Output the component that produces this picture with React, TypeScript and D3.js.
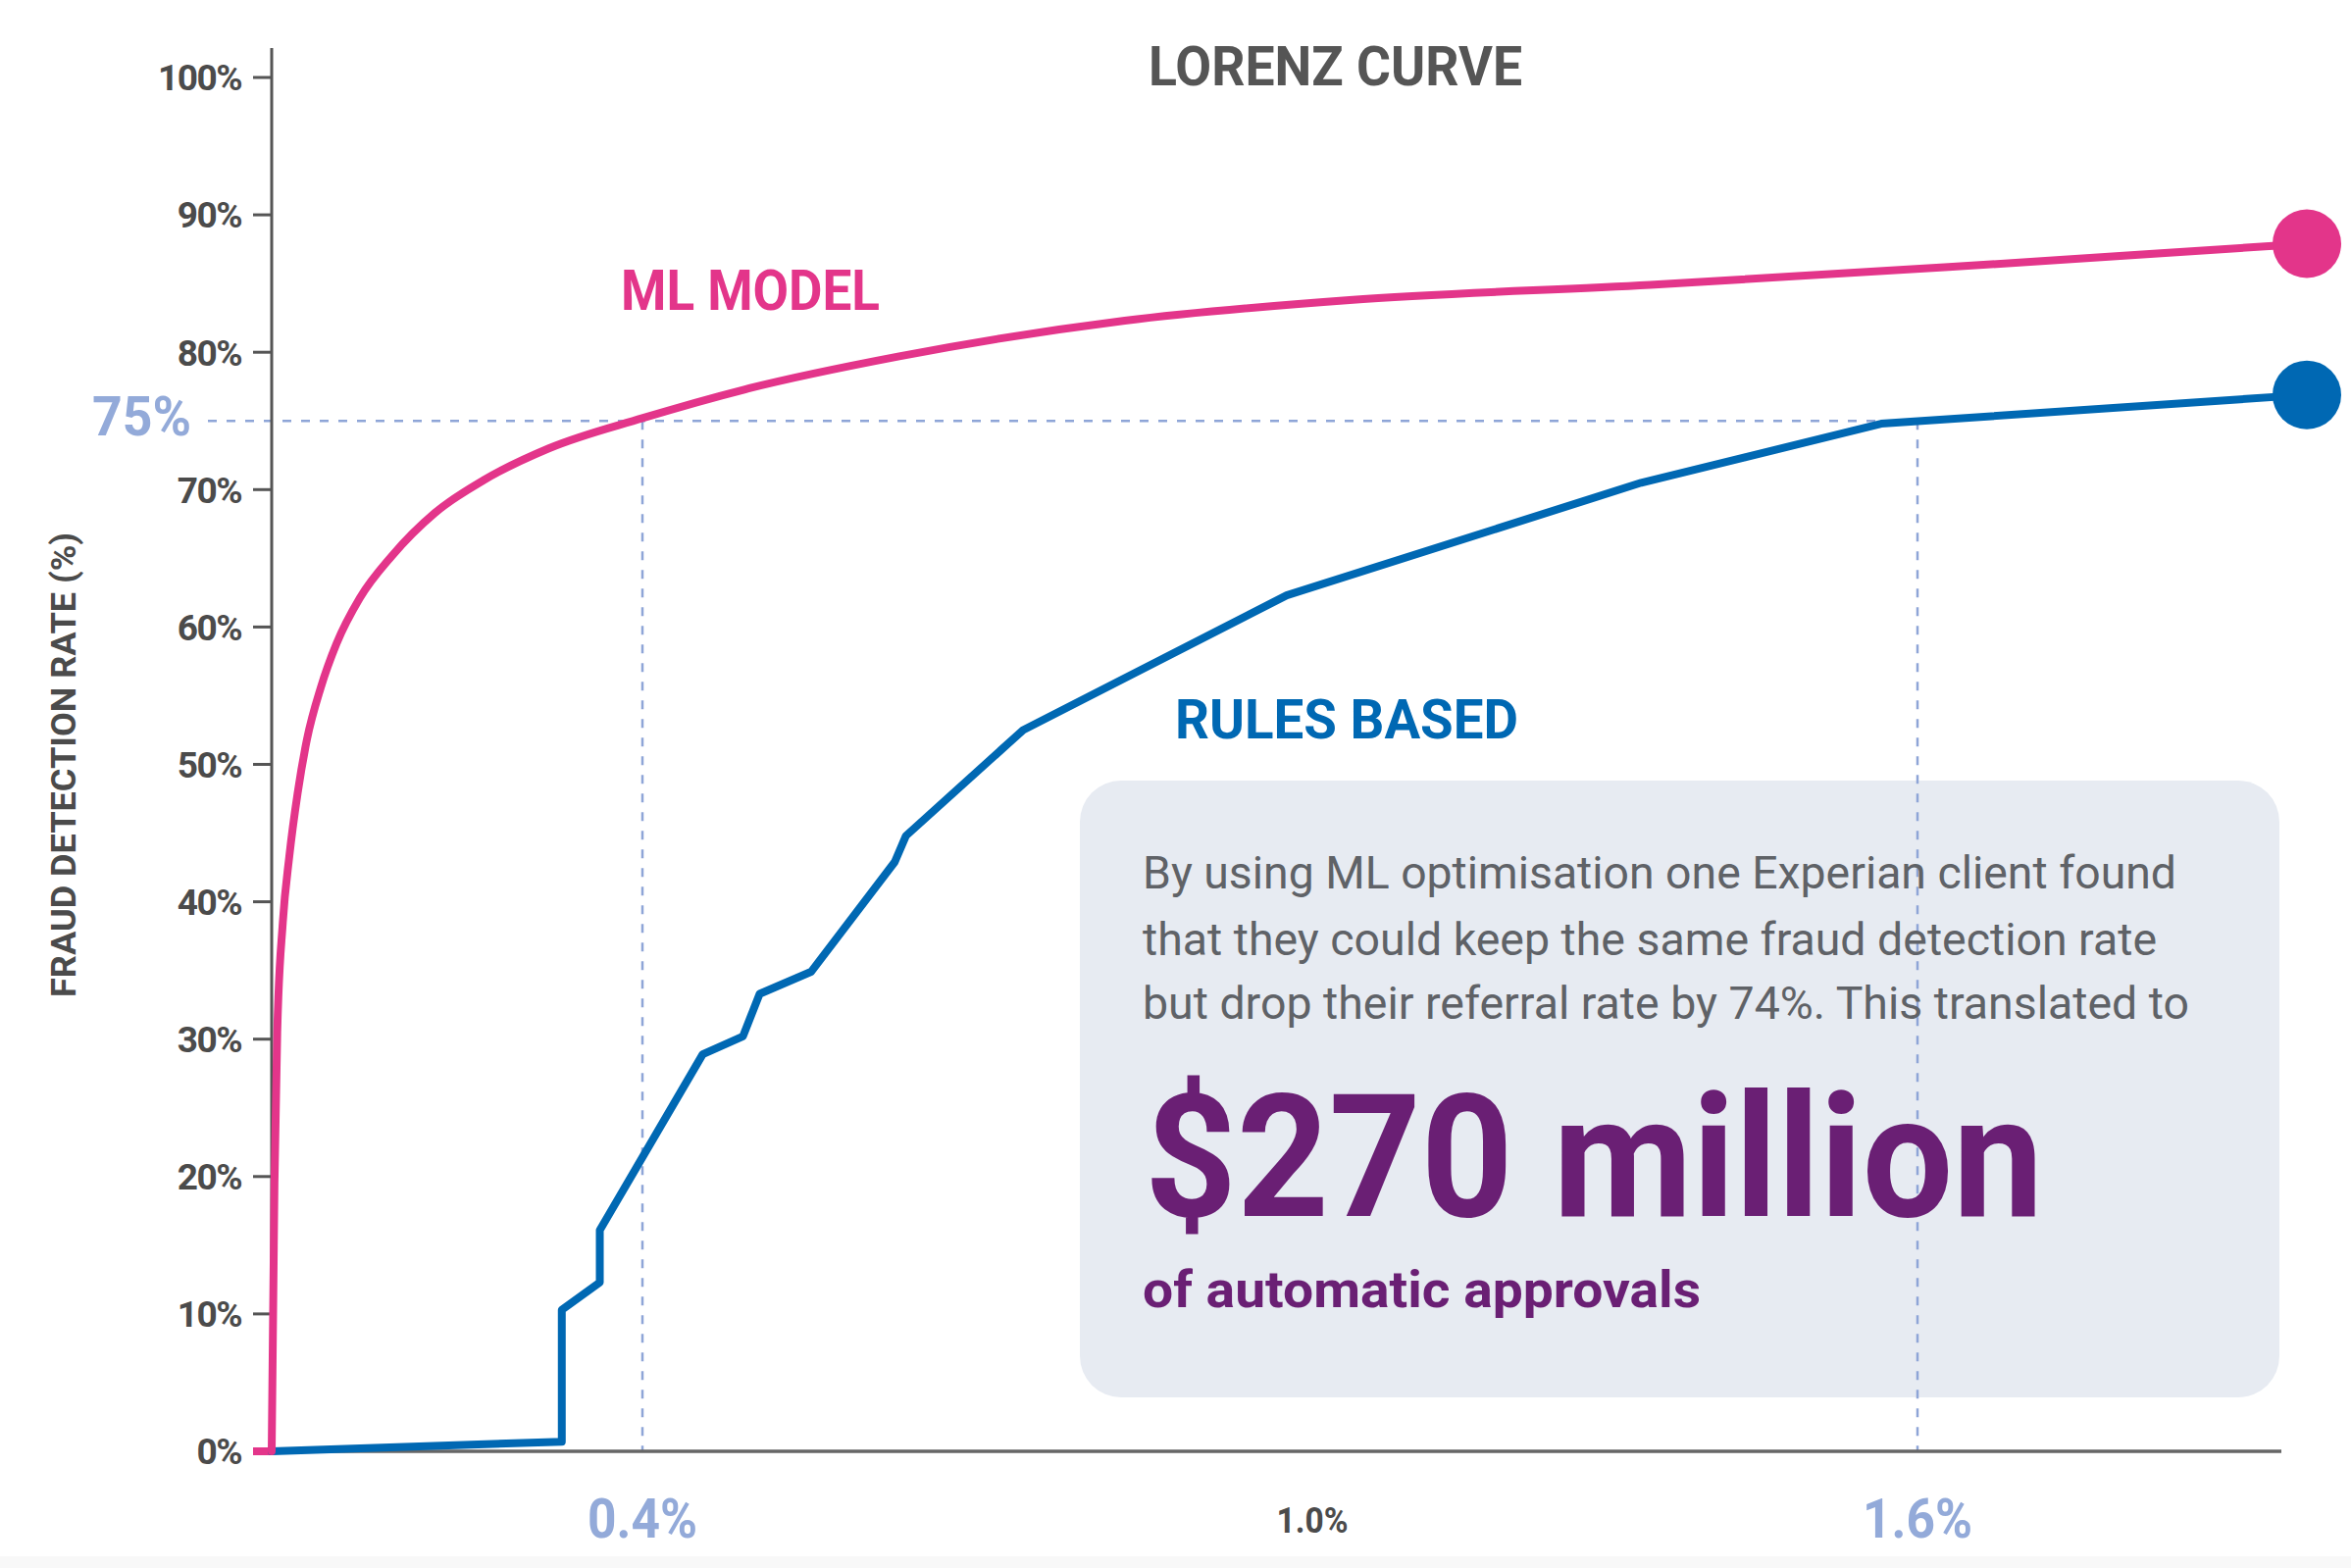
import { useMemo } from "react";
import * as d3 from "d3";

// % of transactions referred (x) vs fraud detection rate (y)
const mlShare = [0, 0.003, 0.006, 0.012, 0.019, 0.028, 0.038, 0.053, 0.07, 0.095, 0.13, 0.176, 0.229, 0.299, 0.4, 0.492, 0.63, 0.832, 1.037, 1.335, 1.632, 2.0];
const mlDetection = [0, 19.5, 30.5, 38.5, 43.3, 47.9, 51.8, 55.6, 58.8, 62.1, 65.2, 68.3, 70.7, 73.0, 75.2, 77.3, 79.7, 82.3, 83.8, 84.9, 86.2, 87.9];

const rulesShare = [0, 0.313, 0.313, 0.354, 0.354, 0.454, 0.49, 0.505, 0.551, 0.626, 0.636, 0.741, 0.977, 1.326, 1.564, 2.0];
const rulesDetection = [0, 0.7, 10.3, 12.3, 16.1, 28.9, 30.2, 33.3, 34.9, 42.9, 44.8, 52.5, 62.3, 70.5, 74.8, 76.9];

const yTicks = [0, 10, 20, 30, 40, 50, 60, 70, 80, 90, 100];
const xMarks = [0.4, 1.6];
const xMid = 1.0;
const targetRate = 75;

const PINK = "#e3358a";
const BLUE = "#0068b3";
const LIGHT = "#93aad9";
const DASH = "#8ea5d7";
const INK = "#4b4b4b";
const PURPLE = "#6a1f74";
const DIN = "Roboto, 'Noto Sans', sans-serif";

export default function App() {
  const width = 2397;
  const height = 1599;

  // the infographic's x axis is not evenly spaced, so map its labelled stops
  const x = d3.scaleLinear().domain([0, 0.4, 1.0, 1.6, 2.0]).range([277, 655, 1338, 1955, 2352]);
  const y = d3.scaleLinear().domain([0, 100]).range([1480, 79]);

  const line = d3
    .line<[number, number]>()
    .x((d) => x(d[0]))
    .y((d) => y(d[1]));

  const mlPts = useMemo(() => mlShare.map((v, i) => [v, mlDetection[i]] as [number, number]), []);
  const rulesPts = useMemo(() => rulesShare.map((v, i) => [v, rulesDetection[i]] as [number, number]), []);

  const mlPath = line.curve(d3.curveMonotoneX)(mlPts) ?? "";
  const rulesPath = line.curve(d3.curveLinear)(rulesPts) ?? "";
  const mlEnd = mlPts[mlPts.length - 1];
  const rulesEnd = rulesPts[rulesPts.length - 1];
  const axisLeft = x(0);

  return (
    <div style={{ position: "absolute", left: 0, top: 0 }}>
      <svg width={width} height={height} style={{ display: "block", background: "#fff" }}>
        <rect x={0} y={1587} width={width} height={12} fill="#f8f8f8" />

        {/* callout box */}
        <rect x={1101} y={796} width={1223} height={629} rx={42} fill="#e7ebf2" />

        {/* 75% guides */}
        <g stroke={DASH} strokeWidth={2.5} strokeDasharray="9 10" fill="none">
          <line x1={212} x2={x(1.6)} y1={y(targetRate)} y2={y(targetRate)} />
          {xMarks.map((v) => (
            <line key={v} x1={x(v)} x2={x(v)} y1={y(targetRate)} y2={y(0)} />
          ))}
        </g>

        {/* axes */}
        <line x1={axisLeft} x2={axisLeft} y1={49} y2={y(0)} stroke="#555" strokeWidth={3} />
        <line x1={axisLeft} x2={2326} y1={y(0)} y2={y(0)} stroke="#666" strokeWidth={3.5} />
        {yTicks.map((t) => (
          <g key={t}>
            <line
              x1={axisLeft - 19}
              x2={axisLeft}
              y1={y(t)}
              y2={y(t)}
              stroke={t === 0 ? PINK : "#555"}
              strokeWidth={t === 0 ? 8 : 3}
            />
            <text
              x={246}
              y={y(t)}
              dy="0.36em"
              textAnchor="end"
              fontFamily={DIN}
              fontWeight={700}
              fontSize={37}
              fill={INK}
              letterSpacing={-1.5}
            >
              {t}%
            </text>
          </g>
        ))}
        <text
          x={195}
          y={y(targetRate) + 15}
          textAnchor="end"
          fontFamily={DIN}
          fontWeight={700}
          fontSize={55}
          fill={LIGHT}
          textLength={101}
          lengthAdjust="spacingAndGlyphs"
        >
          75%
        </text>

        {xMarks.map((v) => (
          <text
            key={v}
            x={x(v)}
            y={1568}
            textAnchor="middle"
            fontFamily={DIN}
            fontWeight={700}
            fontSize={56}
            fill={LIGHT}
            textLength={112}
            lengthAdjust="spacingAndGlyphs"
          >
            {v.toFixed(1)}%
          </text>
        ))}
        <text
          x={x(xMid)}
          y={1563}
          textAnchor="middle"
          fontFamily={DIN}
          fontWeight={700}
          fontSize={37}
          fill={INK}
          textLength={73}
          lengthAdjust="spacingAndGlyphs"
        >
          {xMid.toFixed(1)}%
        </text>

        <text
          transform="translate(77,780) rotate(-90)"
          textAnchor="middle"
          fontFamily={DIN}
          fontWeight={700}
          fontSize={35}
          fill={INK}
          textLength={474}
          lengthAdjust="spacingAndGlyphs"
        >
          FRAUD DETECTION RATE (%)
        </text>

        <text
          x={1171}
          y={87}
          fontFamily={DIN}
          fontWeight={700}
          fontSize={55}
          fill="#555"
          textLength={381}
          lengthAdjust="spacingAndGlyphs"
        >
          LORENZ CURVE
        </text>

        {/* series */}
        <path d={rulesPath} fill="none" stroke={BLUE} strokeWidth={8} strokeLinejoin="round" strokeLinecap="round" />
        <path d={mlPath} fill="none" stroke={PINK} strokeWidth={8} strokeLinejoin="round" strokeLinecap="round" />
        <circle cx={x(mlEnd[0])} cy={y(mlEnd[1])} r={35} fill={PINK} />
        <circle cx={x(rulesEnd[0])} cy={y(rulesEnd[1])} r={35} fill={BLUE} />

        <text x={633} y={316} fontFamily={DIN} fontWeight={700} fontSize={57} fill={PINK} textLength={264} lengthAdjust="spacingAndGlyphs">
          ML MODEL
        </text>
        <text x={1198} y={753} fontFamily={DIN} fontWeight={700} fontSize={56} fill={BLUE} textLength={350} lengthAdjust="spacingAndGlyphs">
          RULES BASED
        </text>

        {/* callout text */}
        <g fontFamily="Roboto, sans-serif" fill="#5f6267" fontSize={46}>
          <text x={1165} y={906} textLength={1054} lengthAdjust="spacingAndGlyphs">
            By using ML optimisation one Experian client found
          </text>
          <text x={1165} y={974} textLength={1034} lengthAdjust="spacingAndGlyphs">
            that they could keep the same fraud detection rate
          </text>
          <text x={1165} y={1039} textLength={1067} lengthAdjust="spacingAndGlyphs">
            but drop their referral rate by 74%. This translated to
          </text>
        </g>
        <text
          x={1167}
          y={1240}
          fontFamily="Roboto, sans-serif"
          fontWeight={700}
          fontSize={174}
          fill={PURPLE}
          textLength={916}
          lengthAdjust="spacingAndGlyphs"
        >
          $270 million
        </text>
        <text
          x={1165}
          y={1333}
          fontFamily="Roboto, sans-serif"
          fontWeight={700}
          fontSize={52}
          fill={PURPLE}
          textLength={569}
          lengthAdjust="spacingAndGlyphs"
        >
          of automatic approvals
        </text>
      </svg>
    </div>
  );
}
